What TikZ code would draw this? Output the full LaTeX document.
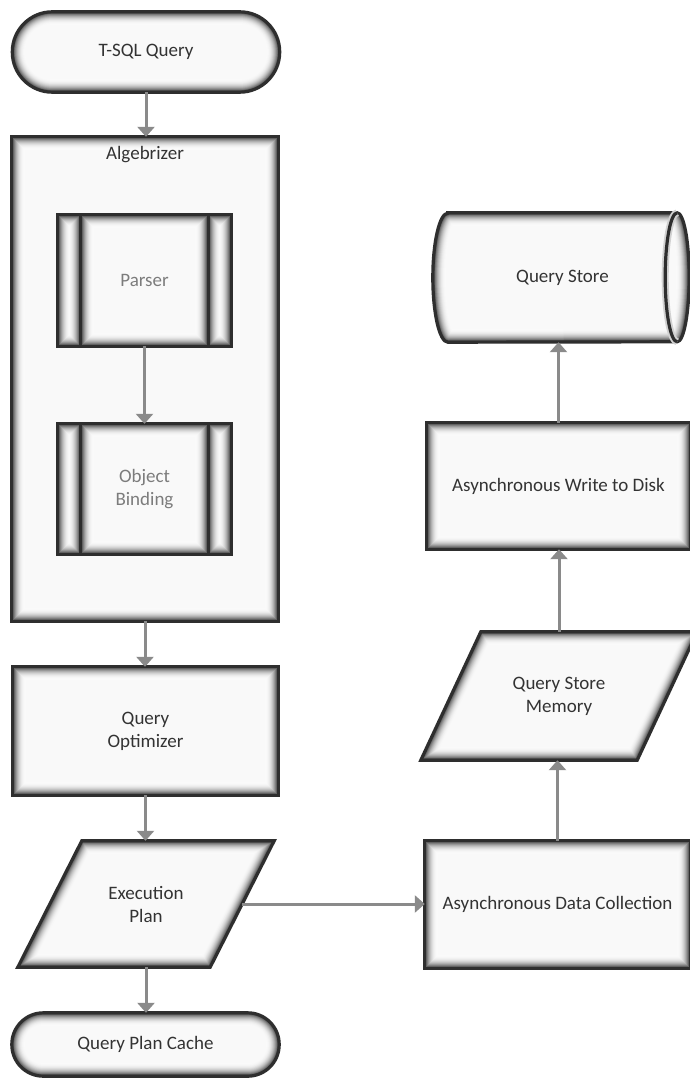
\documentclass[tikz,border=0pt]{standalone}
\usepackage{fontspec}
\setmainfont{Carlito}
\usetikzlibrary{arrows.meta,calc}
\pgfdeclarelayer{bg}
\pgfsetlayers{bg,main}
\definecolor{txt}{HTML}{333333}
\definecolor{lighttxt}{HTML}{7C7C7C}
\definecolor{arr}{HTML}{8A8A8A}
\definecolor{boxfill}{HTML}{F9F9F9}
\definecolor{edge}{HTML}{2E2E2E}
\tikzset{
  lbl/.style={text=txt, align=center, font=\fontsize{19}{23}\selectfont, inner sep=0pt},
  sbox/.style 2 args={lbl, rectangle, draw=none, minimum width=#1, minimum height=#2},
  flow/.style={draw=arr, line width=3pt, -{Triangle[width=17pt,length=10pt]}}
}
\newcommand\glowshape[1]{%
  \fill[boxfill] #1;
  \begin{scope}
    \clip #1;
    \foreach \k in {0,...,24}{%
      \pgfmathsetmacro\glw{26-\k}%
      \pgfmathsetmacro\gls{2+72*(\k/24)^2.2}%
      \draw[line width=\glw pt, draw=black!\gls] #1;
    }
  \end{scope}
  \draw[line width=3.2pt, draw=edge] #1;
}
\begin{document}
\begin{tikzpicture}[x=1pt,y=-1pt]
\useasboundingbox (0,0) rectangle (689,1078);
% nodes
\node[sbox={267pt}{80pt}] (tsql) at (146,52) {T-SQL Query};
\node[sbox={266pt}{484pt}] (alg) at (145,379) {};
\node[lbl] (algt) at (145,155) {Algebrizer};
\node[sbox={173pt}{131pt}, text=lighttxt] (parser) at (144.5,280.5) {Parser};
\node[sbox={173pt}{130pt}, text=lighttxt] (objb) at (144.5,489) {Object\\Binding};
\node[sbox={265pt}{128pt}] (qopt) at (145.5,731) {Query\\Optimizer};
\node[sbox={192pt}{126pt}] (ep) at (146,904) {Execution\\Plan};
\node[sbox={267pt}{63pt}] (qpc) at (145.5,1044.5) {Query Plan Cache};
\node[sbox={229pt}{129pt}] (qs) at (562.5,277.5) {Query Store};
\node[sbox={263pt}{126pt}] (awd) at (558.5,486) {Asynchronous Write to Disk};
\node[sbox={216pt}{128pt}] (qsm) at (559,696) {Query Store\\Memory};
\node[sbox={265pt}{127pt}] (adc) at (557.5,904.5) {Asynchronous Data Collection};

\begin{pgfonlayer}{bg}
\fill[white] (0,0) rectangle (689,1078);
% terminals
\glowshape{[rounded corners=40pt] (tsql.south west) rectangle (tsql.north east)}
\glowshape{[rounded corners=31.5pt] (qpc.south west) rectangle (qpc.north east)}
% algebrizer
\glowshape{(alg.south west) rectangle (alg.north east)}
% predefined processes
\glowshape{(parser.south west) rectangle ($(parser.north west)+(23,0)$)}
\glowshape{($(parser.south west)+(23,0)$) rectangle ($(parser.north east)+(-23,0)$)}
\glowshape{($(parser.south east)+(-23,0)$) rectangle (parser.north east)}
\glowshape{(objb.south west) rectangle ($(objb.north west)+(23,0)$)}
\glowshape{($(objb.south west)+(23,0)$) rectangle ($(objb.north east)+(-23,0)$)}
\glowshape{($(objb.south east)+(-23,0)$) rectangle (objb.north east)}
% processes
\glowshape{(qopt.south west) rectangle (qopt.north east)}
\glowshape{(awd.south west) rectangle (awd.north east)}
\glowshape{(adc.south west) rectangle (adc.north east)}
% data (parallelograms)
\glowshape{($(ep.north west)+(32,0)$) -- ($(ep.north east)+(32,0)$) -- ($(ep.south east)+(-32,0)$) -- ($(ep.south west)+(-32,0)$) -- cycle}
\glowshape{($(qsm.north west)+(30,0)$) -- ($(qsm.north east)+(30,0)$) -- ($(qsm.south east)+(-30,0)$) -- ($(qsm.south west)+(-30,0)$) -- cycle}
% stored data (cylinder)
\glowshape{(qs.north west) -- (qs.north east) arc[start angle=90, end angle=-90, x radius=12pt, y radius=64.5pt] -- (qs.south west) arc[start angle=270, end angle=90, x radius=15pt, y radius=64.5pt] -- cycle}
\draw[line width=7pt, draw=black!18] (qs.north east) arc[start angle=90, end angle=270, x radius=12pt, y radius=64.5pt];
\draw[line width=3.2pt, draw=edge] (qs.north east) arc[start angle=90, end angle=270, x radius=12pt, y radius=64.5pt];
\end{pgfonlayer}

% connectors
\draw[flow] (tsql.south) -- (tsql.south |- alg.north);
\draw[flow] (parser.south) -- (parser.south |- objb.north);
\draw[flow] (alg.south) -- (alg.south |- qopt.north);
\draw[flow] (qopt.south) -- (qopt.south |- ep.north);
\draw[flow] (ep.south) -- (ep.south |- qpc.north);
\draw[flow] (ep.east) -- (ep.east -| adc.west);
\draw[flow] (adc.north) -- (adc.north |- qsm.south);
\draw[flow] (qsm.north) -- (qsm.north |- awd.south);
\draw[flow] (awd.north) -- (awd.north |- qs.south);
\end{tikzpicture}
\end{document}
